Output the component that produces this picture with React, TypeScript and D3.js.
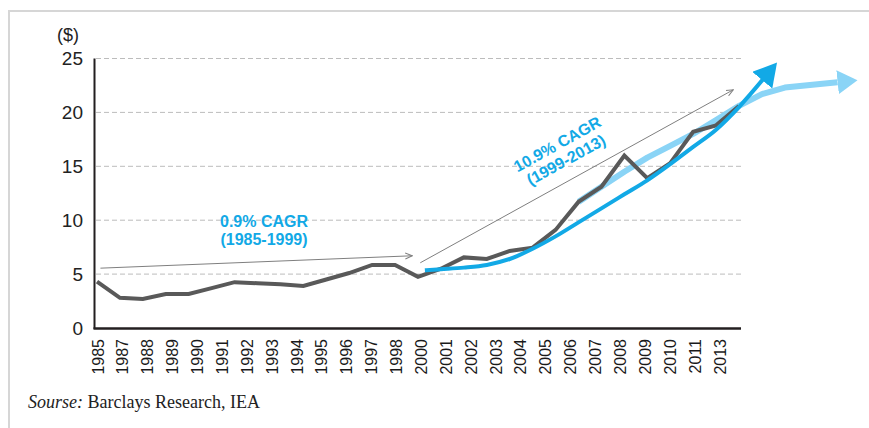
import * as d3 from "d3";

// axis tick labels as printed under the chart (the source skips a few years)
const tickLabels = [
  "1985", "1987", "1988", "1989", "1990", "1991", "1992", "1993", "1994",
  "1995", "1996", "1997", "1998", "2000", "2001", "2002", "2003", "2004",
  "2005", "2006", "2007", "2008", "2009", "2010", "2011", "2013",
];
const yTicks = [0, 5, 10, 15, 20, 25];

// annual series ($)
const years = [
  1985, 1986, 1987, 1988, 1989, 1990, 1991, 1992, 1993, 1994, 1995, 1996,
  1997, 1998, 1999, 2000, 2001, 2002, 2003, 2004, 2005, 2006, 2007, 2008,
  2009, 2010, 2011, 2012, 2013,
];
const prices = [
  4.3, 2.8, 2.7, 3.15, 3.15, 3.7, 4.25, 4.15, 4.05, 3.9, 4.5, 5.1, 5.85, 5.85,
  4.75, 5.5, 6.55, 6.4, 7.15, 7.45, 9.1, 11.7, 13.1, 16.0, 13.9, 15.3, 18.2,
  18.8, 20.6,
];

// 10.9% CAGR trend curve (dark blue)
const cagrYears = [
  1999.3, 2000, 2001, 2002, 2003, 2004, 2005, 2006, 2007, 2008, 2009, 2010,
  2011, 2012, 2013, 2014.1,
];
const cagrValues = [
  5.35, 5.45, 5.6, 5.85, 6.4, 7.35, 8.5, 9.8, 11.1, 12.4, 13.7, 15.2, 16.8,
  18.4, 20.5, 23.2,
];

// outlook line (light blue)
const outlookYears = [
  2006, 2007, 2008, 2009, 2010, 2011, 2012, 2013, 2014, 2015, 2017.3,
];
const outlookValues = [
  11.7, 13.1, 14.5, 15.8, 16.9, 18.0, 19.3, 20.6, 21.7, 22.3, 22.8,
];

// thin grey guide arrows [fromYear, fromValue, toYear, toValue]
const guideArrows = [
  [1985.15, 5.55, 1998.75, 6.7],
  [1999.1, 6.05, 2012.75, 22.1],
];

const BLUE = "#12a9e6";
const LIGHT = "#8ad4f6";
const DARK = "#595959";

const App = () => {
  const width = 869;
  const height = 428;

  const x = d3.scaleLinear().domain([1985, 2013]).range([97, 739]);
  const y = d3.scaleLinear().domain([0, 25]).range([328, 58.5]);
  const xLabel = d3.scalePoint().domain(tickLabels).range([98, 720]);

  const priceLine = d3
    .line<number>()
    .x((d, i) => x(years[i]))
    .y((d) => y(d));

  const cagrLine = d3
    .line<number>()
    .x((d, i) => x(cagrYears[i]))
    .y((d) => y(d))
    .curve(d3.curveMonotoneX);

  const outlookLine = d3
    .line<number>()
    .x((d, i) => x(outlookYears[i]))
    .y((d) => y(d));

  const font = "'Liberation Sans', Arial, sans-serif";

  return (
    <svg
      width={width}
      height={height}
      style={{ position: "absolute", left: 0, top: 0, background: "#fff" }}
    >
      <defs>
        <marker id="arrDark" markerUnits="userSpaceOnUse" markerWidth={26} markerHeight={26}
          refX={3} refY={13} orient="auto">
          <path d="M0,0 L23,13 L0,26 Z" fill={BLUE} />
        </marker>
        <marker id="arrLight" markerUnits="userSpaceOnUse" markerWidth={22} markerHeight={24}
          refX={0} refY={12} orient="auto">
          <path d="M0,0 L20,12 L0,24 Z" fill={LIGHT} />
        </marker>
        <marker id="arrGrey" markerUnits="userSpaceOnUse" markerWidth={8} markerHeight={8}
          refX={7} refY={4} orient="auto">
          <path d="M0,1 L7,4 L0,7" fill="none" stroke="#7f7f7f" strokeWidth={1} />
        </marker>
      </defs>

      {/* frame */}
      <line x1={9} x2={width} y1={11} y2={11} stroke="#d6d6d6" strokeWidth={2} />
      <line x1={9} x2={9} y1={10} y2={height} stroke="#d6d6d6" strokeWidth={2} />

      {/* gridlines */}
      {yTicks.filter((t) => t > 0).map((t) => (
        <line key={t} x1={96} x2={741} y1={y(t)} y2={y(t)}
          stroke="#bcbcbc" strokeWidth={1} strokeDasharray="5,3" />
      ))}

      {/* y labels */}
      <text x={68} y={41} textAnchor="middle" fontFamily={font} fontSize={18} fill="#222">($)</text>
      {yTicks.map((t) => (
        <text key={t} x={83} y={y(t)} dy="0.36em" textAnchor="end"
          fontFamily={font} fontSize={19} fill="#222">{t}</text>
      ))}

      {/* x labels */}
      {tickLabels.map((l) => (
        <text key={l} transform={`translate(${xLabel(l)! + 5.5},339) rotate(-90)`}
          textAnchor="end" fontFamily={font} fontSize={16} fill="#1a1a1a">{l}</text>
      ))}

      {/* guide arrows */}
      {guideArrows.map((a, i) => (
        <line key={i} x1={x(a[0])} y1={y(a[1])} x2={x(a[2])} y2={y(a[3])}
          stroke="#7f7f7f" strokeWidth={1} markerEnd="url(#arrGrey)" />
      ))}

      {/* series */}
      <path d={outlookLine(outlookValues)!} fill="none" stroke={LIGHT} strokeWidth={6}
        strokeLinejoin="round" markerEnd="url(#arrLight)" />
      <path d={priceLine(prices)!} fill="none" stroke={DARK} strokeWidth={4}
        strokeLinejoin="miter" />
      <path d={cagrLine(cagrValues)!} fill="none" stroke={BLUE} strokeWidth={4}
        markerEnd="url(#arrDark)" />

      {/* axes */}
      <line x1={94.5} x2={94.5} y1={y(25)} y2={329} stroke="#231f20" strokeWidth={2} />
      <line x1={93.5} x2={741} y1={328.5} y2={328.5} stroke="#231f20" strokeWidth={2.5} />

      {/* annotations */}
      <text x={264} y={227} textAnchor="middle" fontFamily={font} fontSize={16}
        fontWeight="bold" fill={BLUE}>
        <tspan x={264}>0.9% CAGR</tspan>
        <tspan x={264} dy={18}>(1985-1999)</tspan>
      </text>
      <g transform="translate(560,149) rotate(-29)">
        <text textAnchor="middle" fontFamily={font} fontSize={16} fontWeight="bold" fill={BLUE}>
          <tspan x={0} y={0}>10.9% CAGR</tspan>
          <tspan x={0} y={18}>(1999-2013)</tspan>
        </text>
      </g>

      {/* source */}
      <text x={28} y={408} fontFamily="'Liberation Serif', 'Times New Roman', serif"
        fontSize={18} fill="#222">
        <tspan fontStyle="italic">Sourse:</tspan> Barclays Research, IEA
      </text>
    </svg>
  );
};

export default App;
